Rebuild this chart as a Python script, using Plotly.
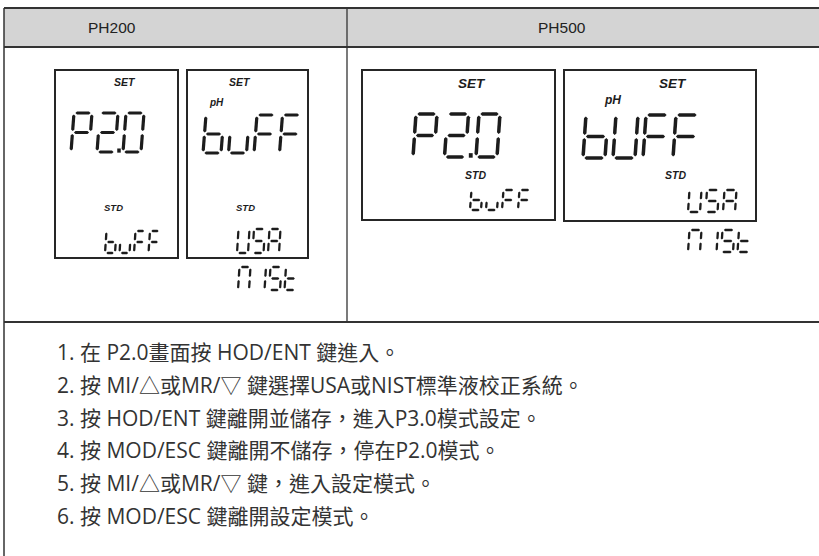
import plotly.graph_objects as go

# ---------------- data ----------------
models = ["PH200", "PH500"]
ph200_main = ["P2.0", "buFF"]
ph200_sub = ["buFF", "USA"]
ph200_alt = "NIST"
ph500_main = ["P2.0", "bUFF"]
ph500_sub = ["buFF", "USA"]
ph500_alt = "NIST"
lcd_top_label = "SET"
lcd_unit_label = "pH"
lcd_sub_label = "STD"
steps = [
    "1. 在 P2.0畫面按 HOD/ENT 鍵進入。",
    "2. 按 MI/△或MR/▽ 鍵選擇USA或NIST標準液校正系統。",
    "3. 按 HOD/ENT 鍵離開並儲存，進入P3.0模式設定。",
    "4. 按 MOD/ESC 鍵離開不儲存，停在P2.0模式。",
    "5. 按 MI/△或MR/▽ 鍵，進入設定模式。",
    "6. 按 MOD/ESC 鍵離開設定模式。",
]

# ---------------- helpers ----------------
SEG = {'P': 'abefg', '2': 'abged', '0': 'abcdef', 'b': 'cdefg', 'u': 'cde',
       'F': 'aefg', 'U': 'bcdef', 'S': 'afgcd', 'A': 'abcefg', 'N': 'abcef',
       'I': 'bc', 'T': 'defg'}
SEGPTS = {'a': ((0, 1), (1, 1)), 'g': ((0, .5), (1, .5)), 'd': ((0, 0), (1, 0)),
          'f': ((0, .5), (0, 1)), 'e': ((0, 0), (0, .5)),
          'b': ((1, .5), (1, 1)), 'c': ((1, 0), (1, .5))}
INK = "#1c1c1c"
shapes = []
annotations = []


def seg_poly(p1, p2, t, gap):
    (x1, y1), (x2, y2) = p1, p2
    dx, dy = x2 - x1, y2 - y1
    L = (dx * dx + dy * dy) ** 0.5
    ux, uy = dx / L, dy / L
    nx, ny = -uy, ux
    ax, ay = x1 + ux * gap, y1 + uy * gap
    bx, by = x2 - ux * gap, y2 - uy * gap
    h = t / 2
    pts = [(ax, ay), (ax + ux * h + nx * h, ay + uy * h + ny * h),
           (bx - ux * h + nx * h, by - uy * h + ny * h), (bx, by),
           (bx - ux * h - nx * h, by - uy * h - ny * h),
           (ax + ux * h - nx * h, ay + uy * h - ny * h)]
    return "M " + " L ".join(f"{x:.2f},{y:.2f}" for x, y in pts) + " Z"


def seg7(text, x0, ybot, w, h, pitch, t, slant, gap=1.4):
    x = x0
    for ch in text:
        key = 'T' if ch == 't' else ch
        if ch == '.':
            cx = x - pitch + w + (pitch - w) / 2
            shapes.append(dict(type="rect", xref="x", yref="y",
                               x0=cx - t * 0.55, x1=cx + t * 0.55,
                               y0=ybot - t * 1.1, y1=ybot + t * 0.2,
                               fillcolor=INK, line=dict(width=0)))
            continue
        for s in SEG.get(key, ''):
            (u1, v1), (u2, v2) = SEGPTS[s]
            p1 = (x + u1 * w + v1 * slant, ybot - v1 * h)
            p2 = (x + u2 * w + v2 * slant, ybot - v2 * h)
            shapes.append(dict(type="path", xref="x", yref="y",
                               path=seg_poly(p1, p2, t, gap),
                               fillcolor=INK, line=dict(width=0)))
        x += pitch


def box(x0, y0, x1, y1, width=2, color="#262626"):
    shapes.append(dict(type="rect", xref="x", yref="y", x0=x0, y0=y0, x1=x1, y1=y1,
                       line=dict(color=color, width=width), layer="above"))


def line(x0, y0, x1, y1, width=1.5, color="#333333"):
    shapes.append(dict(type="line", xref="x", yref="y", x0=x0, y0=y0, x1=x1,
                       y1=y1, line=dict(color=color, width=width)))


def label(text, x, y, size, bold_italic=True, anchor="center", family="Liberation Sans",
          color="#1c1c1c"):
    t = f"<b><i>{text}</i></b>" if bold_italic else text
    annotations.append(dict(text=t, x=x, y=y, xref="x", yref="y", showarrow=False,
                            xanchor=anchor, yanchor="middle",
                            font=dict(family=family, size=size, color=color)))


# ---------------- table frame ----------------
shapes.append(dict(type="rect", xref="x", yref="y", x0=4, y0=8, x1=830, y1=47,
                   fillcolor="#d4d4d4", line=dict(width=0), layer="below"))
line(4, 8, 830, 8, 2.2)
line(4, 47, 830, 47, 2)
line(4, 8, 4, 560, 1.5)
line(347, 8, 347, 322, 1.3)
line(4, 322, 830, 322, 2)

label(models[0], 112, 27, 15.5, bold_italic=False, color="#222222")
label(models[1], 562, 27, 15.5, bold_italic=False, color="#222222")

# ---------------- PH200 LCDs ----------------
box(55, 70, 178, 258)
box(187, 70, 308, 258)
label(lcd_top_label, 125, 82, 10.5)
label(lcd_top_label, 240, 82, 10.5)
label(lcd_unit_label, 216, 102, 10)
label(lcd_sub_label, 113, 207, 9.5)
label(lcd_sub_label, 245, 207, 9.5)
seg7(ph200_main[0], 71, 152, 18, 39, 26, 3.2, 3)
seg7(ph200_main[1], 203, 153, 18, 38, 25.5, 3.2, 3)
seg7(ph200_sub[0], 105, 253, 10, 22, 14.5, 2.3, 1.5)
seg7(ph200_sub[1], 237, 253, 11, 24, 15.5, 2.3, 1.5)
seg7(ph200_alt, 238, 290, 11, 23, 15.5, 2.3, 1.5)

# ---------------- PH500 LCDs ----------------
box(362, 70, 555, 220)
box(564, 70, 756, 221)
label(lcd_top_label, 472, 83, 13.5)
label(lcd_top_label, 673, 83, 13.5)
label(lcd_unit_label, 612, 100, 12)
label(lcd_sub_label, 475, 175, 10.5)
label(lcd_sub_label, 675, 175, 10.5)
seg7(ph500_main[0], 413, 157, 21, 43, 31.5, 3.5, 3)
seg7(ph500_main[1], 583, 158, 22, 43, 30, 3.5, 3)
seg7(ph500_sub[0], 470, 210, 11, 20, 16, 2.3, 1.5)
seg7(ph500_sub[1], 688, 212, 12, 22, 17.5, 2.3, 1.5)
seg7(ph500_alt, 688, 252, 12, 22, 16.5, 2.3, 1.5)

# ---------------- instructions ----------------
for i, s in enumerate(steps):
    annotations.append(dict(text=s, x=55, y=352 + i * 32.8, xref="x", yref="y",
                            showarrow=False, xanchor="left", yanchor="middle",
                            font=dict(family="Open Sans, Noto Sans CJK TC", size=21,
                                      color="#333333")))

fig = go.Figure()
fig.add_trace(go.Scatter(x=[0, 819], y=[0, 556], mode="markers",
                         marker=dict(opacity=0), hoverinfo="skip", showlegend=False))
fig.update_layout(
    width=819, height=556, margin=dict(l=0, r=0, t=0, b=0, pad=0),
    paper_bgcolor="white", plot_bgcolor="white",
    xaxis=dict(range=[0, 819], visible=False, fixedrange=True),
    yaxis=dict(range=[556, 0], visible=False, fixedrange=True),
    shapes=shapes, annotations=annotations, showlegend=False,
)
fig.write_html("out.html", config={"displayModeBar": False},
               post_script="document.body.style.margin='0';document.body.style.overflow='hidden';")
